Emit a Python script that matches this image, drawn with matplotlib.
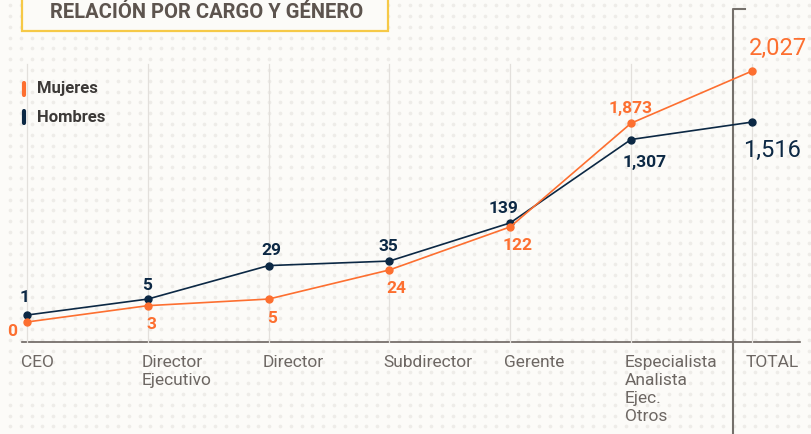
import numpy as np
import matplotlib
matplotlib.use('Agg')
import matplotlib.pyplot as plt
from matplotlib.patches import Rectangle, ConnectionPatch

plt.rcParams['font.family'] = ['Roboto', 'DejaVu Sans']

# data
cargos = ['CEO', 'Director\nEjecutivo', 'Director', 'Subdirector', 'Gerente',
          'Especialista\nAnalista\nEjec.\nOtros', 'TOTAL']
mujeres = [0, 3, 5, 24, 122, 1873, 2027]
hombres = [1, 5, 29, 35, 139, 1307, 1516]

# label offsets in pixels from each point (dx, dy)
off_muj = [(-15, -9), (4, -19), (3, -19), (7, -19), (7, -19), (0, 15), (26, 23)]
off_hom = [(-2, 18), (-1, 14), (3, 15), (-1, 15), (-7, 14), (14, -23), (20, -28)]

naranja = '#fd6f30'
azul = '#0c2844'
fondo = '#fcfbf8'

W, H = 811, 434
fig = plt.figure(figsize=(W / 100, H / 100), dpi=100, facecolor=fondo)

# background layer in pixel coordinates
bg = fig.add_axes([0, 0, 1, 1])
bg.set_xlim(0, W)
bg.set_ylim(H, 0)
bg.axis('off')
gx, gy = np.meshgrid(np.arange(10, W, 10.8), np.arange(5.2, H, 10.8))
bg.scatter(gx.ravel(), gy.ravel(), s=7, color='#eeece8', lw=0, zorder=0)

# title box
bg.add_patch(Rectangle((22, -5), 366, 36, facecolor=fondo, edgecolor='#f6c947',
                       lw=1.6, zorder=2))
bg.text(207, 13, 'RELACIÓN POR CARGO Y GÉNERO', ha='center', va='center',
        fontsize=14.5, fontweight='bold', color='#5d544e', zorder=3)

# legend
for yy, lab, col in [(89, 'Mujeres', naranja), (117, 'Hombres', azul)]:
    bg.plot([24, 24], [yy - 6, yy + 6], color=col, lw=3, solid_capstyle='round', zorder=3)
    bg.text(37, yy, lab, ha='left', va='center', fontsize=12, fontweight='bold',
            color='#3c3937', zorder=3)

# baseline and TOTAL axis line
bg.plot([22, 800], [341.5, 341.5], color='#6b6460', lw=1.2, zorder=3)
bg.plot([745, 733, 733], [8.5, 8.5, H], color='#75706b', lw=1.5, zorder=3)

# main chart: cargos on a compressed scale
ax = fig.add_axes([0, 0, 1, 1])
ax.patch.set_alpha(0)
p, c = 0.15, 2.0
cp = c ** p
fwd = lambda v: np.sign(v) * ((np.abs(v) + c) ** p - cp)
inv = lambda v: np.sign(v) * ((np.abs(v) + cp) ** (1 / p) - c)
ax.set_yscale('function', functions=(fwd, inv))

step = 120.8      # pixels between categories
x0 = 27           # pixel of first category
zero_px = 322     # pixel row of value 0
k = 100           # pixels per unit of transformed scale
ax.set_xlim(-x0 / step, (W - x0) / step)
ax.set_ylim(inv(-(H - zero_px) / k), inv(zero_px / k))
ax.axis('off')

# TOTAL column has its own linear axis
ax2 = ax.twinx()
ax2.patch.set_alpha(0)
ax2.set_ylim(-1610, 2740)
ax2.axis('off')

x = np.arange(len(cargos))
base_frac = (H - 341.5) / H
for i in x:
    ax.axvline(i, ymin=base_frac, ymax=(H - 64) / H, color='#e3e0dc', lw=0.9, zorder=1)

n = len(cargos) - 1
for serie, col, offs, z in [(hombres, azul, off_hom, 3), (mujeres, naranja, off_muj, 4)]:
    ax.plot(x[:n], serie[:n], color=col, lw=1.2, marker='o', ms=5, zorder=z)
    ax2.plot(x[n:], serie[n:], color=col, lw=0, marker='o', ms=5, zorder=z)
    con = ConnectionPatch(xyA=(x[n - 1], serie[n - 1]), coordsA=ax.transData,
                          xyB=(x[n], serie[n]), coordsB=ax2.transData,
                          color=col, lw=1.2, shrinkA=0, shrinkB=0, zorder=z)
    ax2.add_artist(con)
    for i, (v, (dx, dy)) in enumerate(zip(serie, offs)):
        big = i == n
        tgt = ax2 if big else ax
        tgt.annotate(f'{v:,}', (i, v), xytext=(dx, dy), textcoords='offset pixels',
                     ha='center', va='center', color=col,
                     fontsize=17 if big else 12.5,
                     fontweight='normal' if big else 'bold')

# category labels
for i, lab in enumerate(cargos):
    ax.annotate(lab, (i, (H - 355) / H), xycoords=('data', 'axes fraction'),
                xytext=(-6, 0), textcoords='offset pixels', ha='left', va='top',
                fontsize=12.5, color='#6d6763', linespacing=1.25)

fig.savefig('out.png', dpi=100, facecolor=fondo)
